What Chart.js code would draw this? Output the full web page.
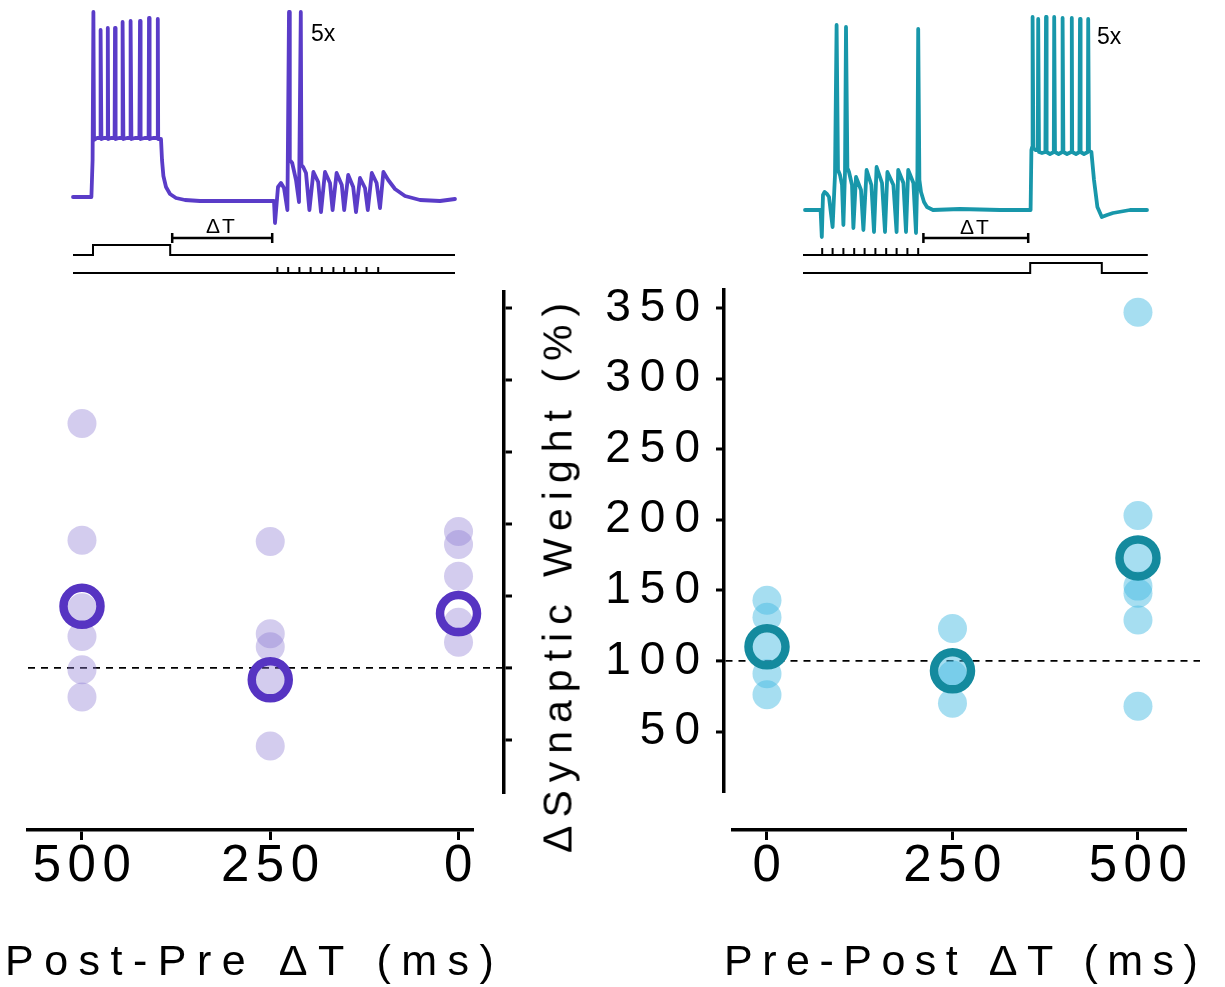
<!DOCTYPE html>
<html>
<head>
<meta charset="utf-8">
<script src="https://cdn.jsdelivr.net/npm/chart.js@4.4.1/dist/chart.umd.min.js"></script>
<style>
html,body{margin:0;padding:0;background:#fff;}
#wrap{position:relative;width:1225px;height:987px;overflow:hidden;background:#fff;}
canvas{position:absolute;}
.lbl{position:absolute;white-space:nowrap;color:#000;font-family:"Liberation Sans",Arial,sans-serif;}
</style>
</head>
<body>
<div id="wrap">
  <canvas id="trL" width="410" height="290" style="left:60px;top:0px;width:410px;height:290px"></canvas>
  <canvas id="trR" width="370" height="290" style="left:790px;top:0px;width:370px;height:290px"></canvas>
  <canvas id="scL" width="488" height="504" style="left:28px;top:290px;width:488px;height:504px"></canvas>
  <canvas id="scR" width="620" height="563" style="left:580px;top:260px;width:620px;height:563px"></canvas>
  <canvas id="axL" width="485" height="159" style="left:8px;top:828px;width:485px;height:159px"></canvas>
  <canvas id="axR" width="493" height="159" style="left:713px;top:828px;width:493px;height:159px"></canvas>

  <div class="lbl" style="left:311px;top:22px;font-size:23px;line-height:23px;">5x</div>
  <div class="lbl" style="left:1097px;top:25px;font-size:23px;line-height:23px;">5x</div>
  <div class="lbl" style="left:206px;top:215px;font-size:21px;line-height:21px;letter-spacing:2px;">ΔT</div>
  <div class="lbl" style="left:960px;top:216px;font-size:21px;line-height:21px;letter-spacing:2px;">ΔT</div>

  <div class="lbl" style="left:5px;top:939px;font-size:43px;line-height:43px;letter-spacing:10.5px;">Post-Pre ΔT (ms)</div>
  <div class="lbl" style="left:724px;top:939px;font-size:43px;line-height:43px;letter-spacing:9.5px;">Pre-Post ΔT (ms)</div>
  <div class="lbl" style="left:558px;top:574px;font-size:41px;line-height:41px;letter-spacing:8px;transform:translate(-50%,-50%) rotate(-90deg);">ΔSynaptic Weight (%)</div>
</div>

<script>
// ================= DATA =================
const yTicks = [50, 100, 150, 200, 250, 300, 350];
const xTicks = [0, 250, 500];

// Post-Pre panel (left)
const postPreDT = [500, 250, 0];
const postPreCells = [
  [270, 189, 142, 122, 99, 80],
  [188, 124, 115, 92, 46],
  [195, 186, 164, 132, 118]
];
const postPreMean = [143, 92, 138];

// Pre-Post panel (right)
const prePostDT = [0, 250, 500];
const prePostCells = [
  [143, 131, 110, 91, 76],
  [123, 93, 90, 70],
  [347, 203, 173, 153, 148, 129, 68]
];
const prePostMean = [110, 93, 173];

// Example traces: time (ms) and membrane potential (mV)
const postPreTraceT = [0,46,49,51,52.5,60,68,69,71,77.5,85.5,87,88,95,104,105,106.5,115,123,124,126,135,143,144,146,155,166,167.5,169,179,189,190,191.5,200,210.5,212,213,220,222.5,226,232.5,242.5,257.5,280,317.5,392.5,467.5,502.5,505,512.5,520,527.5,536,540,542,548,557.5,565,569.5,571,575.5,582.5,591,601,613,620,630,642.5,649,659,672,678,688,700.5,707.5,717.5,730,737,747,759,767.5,776,788,805,830,867.5,917.5,955];
const postPreTraceV = [-69,-69,-50.5,23.5,-40.5,-39.5,-39.5,14.5,-40,-39.5,-39.5,15.5,-40,-39.5,-39.5,15.5,-40,-39.5,-39.5,18.5,-40,-39.5,-39.5,19,-40,-39.5,-39.5,19,-40,-39.5,-39.5,20.5,-40,-39.5,-39.5,20,-40,-40,-50.5,-58.5,-64,-67.5,-69.5,-70.5,-71,-71,-71,-71,-82,-64,-62,-64.5,-75.5,23.5,-50.5,-52,-60.5,-71.5,23.5,-53,-54,-57,-75.5,-56.5,-61.5,-76.5,-56.5,-62,-75.5,-57,-63,-75.5,-58,-64,-76.5,-59.5,-64.5,-75.5,-57,-62,-74.5,-56.5,-60.5,-65,-68.5,-70.5,-71,-70];
const postPreStep = [50, 243];
const postPrePulses = [511, 538, 566, 594, 622, 651, 678, 707, 734, 763];
const postPreDelta = [248, 498];
const postPreSpan = [0, 955];

const prePostTraceT = [0,39,42,45,49,55,60,69,75,79,82.5,87.5,92.5,96,100,102.5,106,110,117.5,121,127.5,140,146,154,166,172.5,179,192.5,200,206,221,229,233,246,252.5,258,271,277.5,281,283,286,290,297.5,305,320,387,487.5,564,566,568,569,571,576,582,583,585,592.5,601,602.5,604,612.5,622,623,625,634,643,644,646,655,665.5,667,668,677.5,686,687.5,689,697.5,707,708,710,716,722.5,731,742,755,770,812.5,855];
const prePostTraceV = [-70,-70,-83.5,-62.5,-61,-62,-63.5,-78.5,-52.5,22.5,-50,-52.5,-57.5,-77.5,-51,21.5,-49,-51,-57.5,-79,-53.5,-60,-80,-50,-57.5,-81,-48.5,-56.5,-81,-51,-57.5,-81,-50,-56.5,-81,-50,-56.5,-81.5,-51,20.5,-55,-61,-66,-68.5,-70,-69.5,-70,-70,-40,-38.5,26.5,-39,-40,-40,25.5,-41,-41.5,-41,26.5,-41,-42,-41,26.5,-41,-42,-41,26,-41,-42,-41,26,-41,-42,-41,25.5,-41,-42,-41,25.5,-40.5,-41,-55,-68.5,-73.5,-72.5,-71.5,-70,-70];
const prePostPulses = [43, 69, 96, 123, 149, 176, 203, 229, 256, 283];
const prePostStep = [563, 742];
const prePostDelta = [296, 558];
const prePostSpan = [-5, 857];

// ================= STYLE =================
const FONT = '"Liberation Sans", Arial, sans-serif';
const COL = {
  lTrace: '#5a3cc8', rTrace: '#1897aa',
  lMean: '#5634c2', rMean: '#148a9e',
  lDot: 'rgba(140,120,210,0.38)', rDot: 'rgba(70,185,225,0.48)'
};

const spacingPlugin = {
  id: 'spacing',
  beforeLayout(chart, args, opts) { if ('letterSpacing' in chart.ctx) chart.ctx.letterSpacing = (opts.px || 0) + 'px'; },
  beforeDraw(chart, args, opts) { if ('letterSpacing' in chart.ctx) chart.ctx.letterSpacing = (opts.px || 0) + 'px'; }
};

function base(spacing) {
  return {
    responsive: false, animation: false, events: [], devicePixelRatio: 1,
    plugins: { legend: { display: false }, tooltip: { enabled: false }, title: { display: false }, spacing: { px: spacing } }
  };
}

function hidden(min, max, extra) {
  return Object.assign({ type: 'linear', display: false, min: min, max: max }, extra || {});
}

// ---------- trace charts ----------
function traceChart(id, c) {
  const black = { borderColor: '#000', showLine: true, pointRadius: 0, tension: 0, clip: false, borderJoinStyle: 'miter' };
  const volt = c.T.map((t, i) => ({ x: t, y: c.V[i] }));
  const sp = c.span, st = c.step, b = c.delta;
  const stepData = [{x: sp[0], y: 0}, {x: st[0], y: 0}, {x: st[0], y: 1}, {x: st[1], y: 1}, {x: st[1], y: 0}, {x: sp[1], y: 0}];
  const pulseData = [{x: sp[0], y: 0}];
  c.pulses.forEach(p => { pulseData.push({x: p, y: 0}, {x: p, y: 1}, {x: p, y: 0}); });
  pulseData.push({x: sp[1], y: 0});
  const brData = [{x: b[0], y: -1}, {x: b[0], y: 1}, {x: b[0], y: 0}, {x: b[1], y: 0}, {x: b[1], y: 1}, {x: b[1], y: -1}];
  new Chart(document.getElementById(id), {
    type: 'scatter',
    data: { datasets: [
      { data: volt, yAxisID: 'yV', borderColor: c.color, borderWidth: 3.8, showLine: true, pointRadius: 0, tension: 0, clip: false, borderJoinStyle: 'round', borderCapStyle: 'round' },
      Object.assign({ data: stepData, yAxisID: 'yPost', borderWidth: 2 }, black),
      Object.assign({ data: pulseData, yAxisID: 'yPre', borderWidth: 2 }, black),
      Object.assign({ data: brData, yAxisID: 'yB', borderWidth: 2.5 }, black)
    ]},
    options: Object.assign(base(0), {
      layout: { padding: 0, autoPadding: false },
      scales: {
        x: hidden(c.xr[0], c.xr[1]),
        yV: hidden(c.vr[0], c.vr[1], { axis: 'y' }),
        yPost: hidden(c.postR[0], c.postR[1], { axis: 'y' }),
        yPre: hidden(c.preR[0], c.preR[1], { axis: 'y' }),
        yB: hidden(-10.4, 47.6, { axis: 'y' })
      }
    }),
    plugins: [spacingPlugin]
  });
}

traceChart('trL', {
  T: postPreTraceT, V: postPreTraceV, color: COL.lTrace,
  span: postPreSpan, step: postPreStep, pulses: postPrePulses, delta: postPreDelta,
  xr: [-32.5, 992.5], vr: [-115.5, 29.5], postR: [-3.5, 25.5], preR: [-2.833, 45.5]
});
traceChart('trR', {
  T: prePostTraceT, V: prePostTraceV, color: COL.rTrace,
  span: prePostSpan, step: prePostStep, pulses: prePostPulses, delta: prePostDelta,
  xr: [-37.5, 887.5], vr: [-110, 35], postR: [-1.7, 27.3], preR: [-5, 36.43]
});

// ---------- scatter panels ----------
function dotsOf(xs, cells) {
  const out = [];
  xs.forEach((x, i) => cells[i].forEach(v => out.push({ x: x, y: v })));
  return out;
}

function yAxis(pos, min, max, width, showLabels) {
  return {
    type: 'linear', position: pos, min: min, max: max,
    afterBuildTicks: a => { a.ticks = yTicks.map(v => ({ value: v })); },
    afterFit: s => { s.width = width; },
    ticks: showLabels
      ? { display: true, color: '#000', padding: 7, font: { family: FONT, size: 46, lineHeight: 1 }, callback: v => String(v) }
      : { display: false },
    grid: {
      display: true, drawOnChartArea: true, drawTicks: true,
      color: c => (c.tick && c.tick.value === 100) ? '#000' : 'rgba(0,0,0,0)',
      lineWidth: c => (c.tick && c.tick.value === 100) ? 1.8 : 0,
      tickLength: 8, tickWidth: 3, tickColor: '#000'
    },
    border: { display: true, color: '#000', width: 3.5, dash: [7, 6] }
  };
}

function scatterPanel(id, xs, cells, means, meanCol, dotCol, xr, reverse, yAx, spacing, pad) {
  new Chart(document.getElementById(id), {
    type: 'scatter',
    data: { datasets: [
      { data: xs.map((x, i) => ({ x: x, y: means[i] })), pointRadius: 18.5, borderWidth: 8.5, borderColor: meanCol, backgroundColor: 'rgba(0,0,0,0)', clip: false },
      { data: dotsOf(xs, cells), pointRadius: 14.5, borderWidth: 0, backgroundColor: dotCol, borderColor: 'rgba(0,0,0,0)', clip: false }
    ]},
    options: Object.assign(base(spacing), {
      layout: { padding: pad, autoPadding: false },
      scales: { x: { type: 'linear', display: false, min: xr[0], max: xr[1], reverse: reverse }, y: yAx }
    }),
    plugins: [spacingPlugin]
  });
}

scatterPanel('scL', postPreDT, postPreCells, postPreMean, COL.lMean, COL.lDot,
  [-60.4, 571.7], true, yAxis('right', 12.7, 362.7, 12, false), 0, 0);
scatterPanel('scR', prePostDT, prePostCells, prePostMean, COL.rMean, COL.rDot,
  [-57.95, 583.6], false, yAxis('left', 6.5, 362.7, 144, true), 9, { top: 30, bottom: 20, left: 0, right: 0 });

// ---------- detached x axes ----------
function xAxisChart(id, min, max, reverse) {
  new Chart(document.getElementById(id), {
    type: 'scatter',
    data: { datasets: [] },
    options: Object.assign(base(6.5), {
      layout: { padding: { left: 20, right: 20, top: 0, bottom: 0 }, autoPadding: false },
      scales: {
        x: {
          type: 'linear', position: 'bottom', min: min, max: max, reverse: reverse,
          afterBuildTicks: a => { a.ticks = xTicks.map(v => ({ value: v })); },
          afterFit: s => { s.height = 157; },
          ticks: { display: true, color: '#000', padding: 1, labelOffset: 3, maxRotation: 0, autoSkip: false,
                   font: { family: FONT, size: 51, lineHeight: 1 }, callback: v => String(v) },
          grid: { display: true, drawOnChartArea: false, drawTicks: true, tickLength: 10, tickWidth: 3, tickColor: '#000', color: '#000' },
          border: { display: true, color: '#000', width: 3.5 }
        },
        y: { type: 'linear', display: false, min: 0, max: 1 }
      }
    }),
    plugins: [spacingPlugin]
  });
}
xAxisChart('axL', -19.26, 571.7, true);
xAxisChart('axR', -45.8, 564.7, false);
</script>
</body>
</html>
